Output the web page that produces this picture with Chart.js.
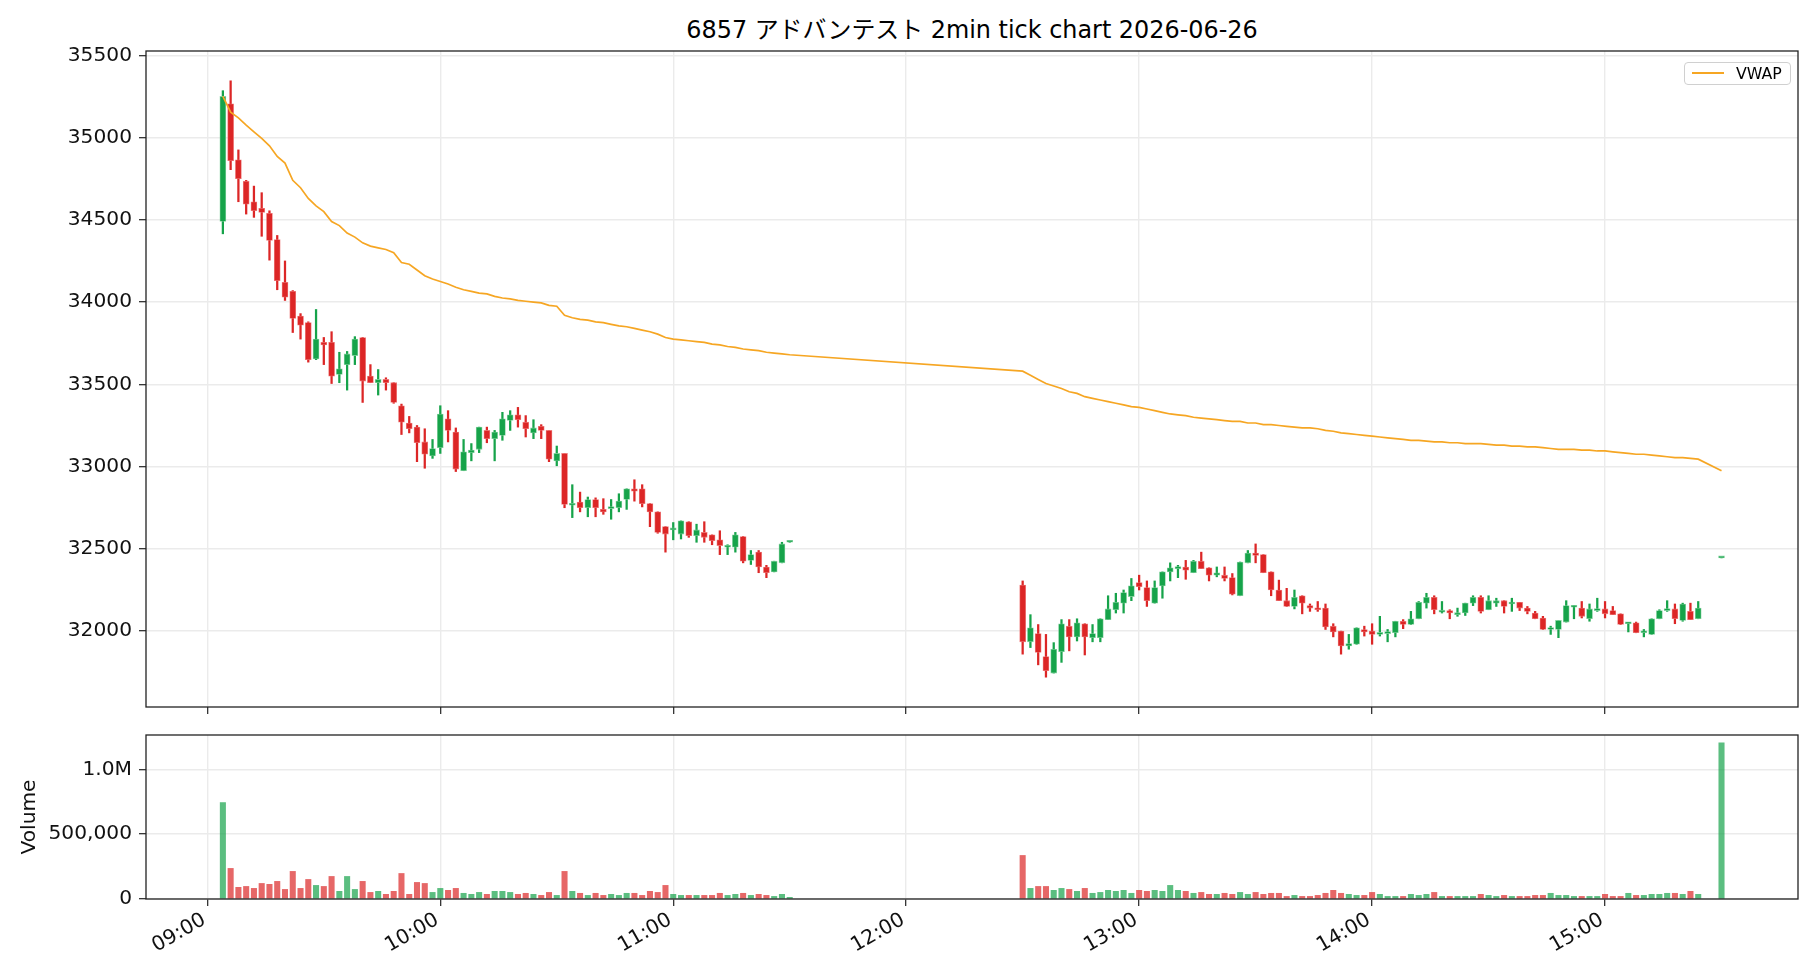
<!DOCTYPE html>
<html>
<head>
<meta charset="utf-8">
<script src="https://cdn.jsdelivr.net/npm/chart.js@4.4.1/dist/chart.umd.min.js"></script>
<style>
body { margin: 0; background: #fff; width: 1820px; height: 980px; overflow: hidden; position: relative;
       font-family: "DejaVu Sans", "Noto Sans CJK JP", sans-serif; }
#title { position: absolute; left: 146px; width: 1652px; top: 14px; height: 32px; line-height: 32px;
         text-align: center; font-size: 23.9px; color: #000; }
#priceBox { position: absolute; left: 0; top: 0; width: 1820px; height: 720px; }
#volBox { position: absolute; left: 0; top: 720px; width: 1820px; height: 260px; }
#legend { position: absolute; left: 1684px; top: 62px; width: 107px; height: 23px; box-sizing: border-box;
          border: 1px solid #d0d0d0; border-radius: 4px; background: rgba(255,255,255,0.85); }
#legend .swatch { position: absolute; left: 7px; top: 9px; width: 32px; height: 2px; background: #f6a623; }
#legend .label { position: absolute; left: 51px; top: 0; line-height: 21px; font-size: 15.8px; color: #000; }
</style>
</head>
<body>
<div id="title">6857 アドバンテスト 2min tick chart 2026-06-26</div>
<div id="priceBox"><canvas id="priceChart" width="1820" height="720"></canvas></div>
<div id="volBox"><canvas id="volChart" width="1820" height="260"></canvas></div>
<div id="legend"><div class="swatch"></div><div class="label">VWAP</div></div>
<script>
// bar times (2 minute bars), morning session then afternoon session
const times = [
  '09:04','09:06','09:08','09:10','09:12','09:14','09:16','09:18','09:20','09:22','09:24','09:26','09:28','09:30',
  '09:32','09:34','09:36','09:38','09:40','09:42','09:44','09:46','09:48','09:50','09:52','09:54','09:56','09:58',
  '10:00','10:02','10:04','10:06','10:08','10:10','10:12','10:14','10:16','10:18','10:20','10:22','10:24','10:26','10:28',
  '10:30','10:32','10:34','10:36','10:38','10:40','10:42','10:44','10:46','10:48','10:50','10:52','10:54','10:56','10:58',
  '11:00','11:02','11:04','11:06','11:08','11:10','11:12','11:14','11:16','11:18','11:20','11:22','11:24','11:26','11:28',
  '11:30',
  '12:30','12:32','12:34','12:36','12:38','12:40','12:42','12:44','12:46','12:48','12:50','12:52','12:54','12:56','12:58',
  '13:00','13:02','13:04','13:06','13:08','13:10','13:12','13:14','13:16','13:18','13:20','13:22','13:24','13:26','13:28',
  '13:30','13:32','13:34','13:36','13:38','13:40','13:42','13:44','13:46','13:48','13:50','13:52','13:54','13:56','13:58',
  '14:00','14:02','14:04','14:06','14:08','14:10','14:12','14:14','14:16','14:18','14:20','14:22','14:24','14:26','14:28',
  '14:30','14:32','14:34','14:36','14:38','14:40','14:42','14:44','14:46','14:48','14:50','14:52','14:54','14:56','14:58',
  '15:00','15:02','15:04','15:06','15:08','15:10','15:12','15:14','15:16','15:18','15:20','15:22','15:24',
  '15:30'
];

const opens = [
  34490, 35205, 34865, 34735, 34610, 34570, 34540, 34380, 34120, 34065,
  33915, 33875, 33655, 33755, 33755, 33560, 33620, 33675, 33785, 33550,
  33510, 33530, 33510, 33370, 33265, 33240, 33150, 33065, 33115, 33290,
  33210, 32975, 33085, 33105, 33220, 33170, 33190, 33280, 33315, 33270,
  33205, 33245, 33220, 33035, 33080, 32765, 32785, 32750, 32800, 32740,
  32745, 32750, 32800, 32865, 32865, 32775, 32725, 32635, 32615, 32590,
  32665, 32580, 32600, 32585, 32555, 32510, 32510, 32575, 32430, 32480,
  32390, 32360, 32415, 32540,
  32280, 31935, 31985, 31845, 31745, 31875, 32030, 31965, 32045, 31960,
  31960, 32070, 32130, 32170, 32210, 32295, 32265, 32170, 32275, 32360,
  32380, 32390, 32355, 32425, 32385, 32340, 32340, 32325, 32215, 32415,
  32475, 32465, 32360, 32250, 32185, 32150, 32215, 32155, 32140, 32140,
  32030, 32000, 31910, 31920, 32010, 32000, 31980, 31985, 31990, 32060,
  32040, 32075, 32170, 32205, 32115, 32125, 32100, 32110, 32170, 32205,
  32130, 32170, 32185, 32165, 32175, 32140, 32110, 32080, 32010, 32010,
  32055, 32145, 32140, 32075, 32125, 32135, 32125, 32105, 32045, 32050,
  31990, 31980, 32075, 32125, 32135, 32065, 32120, 32075,
  32445
];

const highs = [
  35285, 35345, 34925, 34740, 34705, 34665, 34555, 34405, 34250, 34070,
  33930, 33880, 33955, 33785, 33820, 33695, 33700, 33790, 33785, 33620,
  33590, 33540, 33510, 33380, 33305, 33250, 33230, 33165, 33370, 33340,
  33235, 33165, 33140, 33240, 33240, 33220, 33330, 33340, 33360, 33310,
  33285, 33255, 33220, 33125, 33080, 32890, 32845, 32815, 32810, 32805,
  32800, 32835, 32865, 32920, 32890, 32775, 32725, 32635, 32660, 32670,
  32665, 32650, 32665, 32585, 32610, 32525, 32600, 32575, 32490, 32490,
  32400, 32425, 32540, 32540,
  32305, 32100, 32040, 31980, 31930, 32070, 32070, 32075, 32045, 32040,
  32075, 32215, 32230, 32250, 32320, 32340, 32305, 32305, 32360, 32415,
  32400, 32430, 32430, 32480, 32385, 32390, 32390, 32350, 32420, 32490,
  32530, 32465, 32360, 32310, 32260, 32250, 32215, 32165, 32180, 32165,
  32045, 32000, 31980, 32020, 32030, 32045, 32090, 32010, 32060, 32070,
  32120, 32180, 32230, 32215, 32180, 32130, 32140, 32170, 32215, 32215,
  32215, 32200, 32185, 32200, 32175, 32150, 32120, 32090, 32030, 32065,
  32185, 32155, 32180, 32165, 32200, 32180, 32150, 32105, 32050, 32055,
  32010, 32075, 32130, 32185, 32165, 32170, 32170, 32180,
  32445
];

const lows = [
  34415, 34805, 34610, 34535, 34515, 34400, 34255, 34075, 34010, 33815,
  33775, 33635, 33650, 33620, 33505, 33510, 33465, 33620, 33390, 33510,
  33435, 33465, 33385, 33195, 33205, 33030, 32990, 33050, 33080, 33150,
  32970, 32975, 33035, 33085, 33145, 33035, 33160, 33220, 33240, 33180,
  33170, 33170, 33030, 33005, 32750, 32690, 32725, 32695, 32695, 32710,
  32680, 32725, 32740, 32790, 32755, 32635, 32595, 32480, 32555, 32560,
  32570, 32540, 32540, 32525, 32465, 32465, 32480, 32415, 32405, 32355,
  32325, 32360, 32415, 32540,
  31860, 31900, 31795, 31720, 31745, 31810, 31880, 31940, 31855, 31935,
  31935, 32070, 32110, 32110, 32185, 32250, 32150, 32170, 32200, 32305,
  32325, 32315, 32355, 32380, 32305, 32330, 32305, 32220, 32215, 32415,
  32415, 32355, 32215, 32185, 32150, 32135, 32105, 32120, 32120, 32010,
  31965, 31860, 31890, 31920, 31970, 31920, 31970, 31935, 31965, 32015,
  32040, 32075, 32140, 32105, 32110, 32075, 32090, 32095, 32155, 32110,
  32130, 32150, 32110, 32120, 32125, 32105, 32075, 32010, 31980, 31960,
  32055, 32075, 32080, 32060, 32120, 32080, 32100, 32040, 31995, 31990,
  31965, 31980, 32075, 32120, 32045, 32060, 32070, 32075,
  32445
];

const closes = [
  35250, 34860, 34750, 34595, 34555, 34545, 34375, 34130, 34030, 33900,
  33860, 33650, 33775, 33740, 33550, 33595, 33685, 33775, 33520, 33510,
  33530, 33510, 33390, 33270, 33230, 33145, 33075, 33110, 33320, 33220,
  32985, 33090, 33100, 33240, 33170, 33210, 33290, 33315, 33285, 33230,
  33235, 33220, 33045, 33080, 32770, 32775, 32750, 32800, 32750, 32725,
  32755, 32790, 32865, 32850, 32775, 32725, 32600, 32590, 32625, 32670,
  32580, 32615, 32570, 32550, 32520, 32520, 32585, 32425, 32465, 32390,
  32355, 32425, 32530, 32540,
  31935, 32020, 31870, 31760, 31890, 32045, 31965, 32050, 31965, 31985,
  32075, 32135, 32175, 32235, 32275, 32270, 32185, 32265, 32360, 32385,
  32385, 32370, 32425, 32380, 32340, 32355, 32320, 32225, 32420, 32475,
  32460, 32355, 32250, 32185, 32150, 32205, 32170, 32140, 32130, 32025,
  31995, 31910, 31925, 32020, 31995, 31980, 31985, 31995, 32060, 32040,
  32075, 32175, 32205, 32130, 32125, 32110, 32110, 32170, 32205, 32120,
  32185, 32185, 32150, 32175, 32140, 32120, 32075, 32010, 32020, 32065,
  32155, 32155, 32090, 32135, 32135, 32105, 32100, 32040, 32050, 31990,
  32000, 32075, 32125, 32135, 32075, 32165, 32070, 32140,
  32445
];

const volumes = [
  744000, 236000, 90000, 97000, 82000, 120000, 113000, 136000, 74000, 213000,
  82000, 151000, 105000, 97000, 174000, 59000, 174000, 74000, 136000, 51000,
  59000, 36000, 59000, 197000, 36000, 128000, 120000, 51000, 82000, 67000,
  82000, 44000, 36000, 51000, 36000, 59000, 59000, 51000, 36000, 44000,
  36000, 28000, 51000, 28000, 213000, 59000, 44000, 28000, 44000, 28000,
  36000, 28000, 44000, 44000, 28000, 59000, 51000, 105000, 36000, 28000,
  28000, 28000, 28000, 28000, 44000, 28000, 36000, 44000, 28000, 36000,
  28000, 20000, 36000, 13000,
  336000, 82000, 97000, 97000, 67000, 82000, 74000, 59000, 82000, 44000,
  51000, 67000, 59000, 67000, 44000, 67000, 59000, 67000, 59000, 105000,
  67000, 59000, 44000, 51000, 36000, 36000, 44000, 36000, 51000, 36000,
  51000, 36000, 44000, 44000, 20000, 28000, 20000, 20000, 28000, 44000,
  67000, 44000, 36000, 28000, 28000, 51000, 36000, 20000, 20000, 20000,
  36000, 28000, 36000, 51000, 20000, 20000, 20000, 20000, 20000, 36000,
  28000, 20000, 28000, 20000, 20000, 20000, 28000, 28000, 44000, 28000,
  28000, 20000, 20000, 20000, 20000, 36000, 20000, 20000, 44000, 28000,
  28000, 36000, 36000, 44000, 44000, 36000, 59000, 36000,
  1205000
];

const vwap = [
  35250, 35155, 35120, 35075, 35035, 34995, 34950, 34885, 34845, 34740,
  34695, 34630, 34585, 34550, 34490, 34465, 34420, 34395, 34360, 34340,
  34330, 34320, 34300, 34240, 34230, 34195, 34160, 34140, 34125, 34110,
  34090, 34075, 34065, 34055, 34050, 34035, 34025, 34020, 34010, 34005,
  34000, 33995, 33980, 33975, 33920, 33905, 33895, 33890, 33880, 33875,
  33865, 33855, 33850, 33840, 33830, 33820, 33805, 33785, 33775, 33770,
  33765, 33760, 33755, 33745, 33740, 33730, 33725, 33715, 33710, 33705,
  33695, 33690, 33685, 33680,
  33580, 33555, 33530, 33505, 33490, 33475, 33455, 33445, 33425, 33415,
  33405, 33395, 33385, 33375, 33365, 33360, 33350, 33340, 33330, 33320,
  33315, 33310, 33300, 33295, 33290, 33285, 33280, 33275, 33275, 33265,
  33265, 33255, 33255, 33250, 33245, 33240, 33235, 33235, 33230, 33220,
  33215, 33205, 33200, 33195, 33190, 33185, 33180, 33175, 33170, 33165,
  33160, 33160, 33155, 33150, 33150, 33145, 33145, 33140, 33140, 33140,
  33135, 33130, 33130, 33125, 33125, 33120, 33120, 33115, 33110, 33105,
  33105, 33105, 33100, 33100, 33095, 33095, 33090, 33085, 33080, 33075,
  33075, 33070, 33065, 33060, 33055, 33055, 33050, 33045,
  32975
];

const hourTicks = ['09:00', '10:00', '11:00', '12:00', '13:00', '14:00', '15:00'];
const priceTicks = [32000, 32500, 33000, 33500, 34000, 34500, 35000, 35500];
const volumeTicks = [0, 500000, 1000000];

// helpers
const toMin = t => { const [h, m] = t.split(':').map(Number); return h * 60 + m; };
const fmtMin = v => String(Math.floor(v / 60)).padStart(2, '0') + ':' + String(v % 60).padStart(2, '0');

const FONT = '"DejaVu Sans", "Noto Sans CJK JP", sans-serif';
const TICK_SIZE = 20.2;
Chart.defaults.font.family = FONT;
Chart.defaults.color = '#111';

const xs = times.map(toMin);
const up = closes.map((c, i) => c >= opens[i]);
const GREEN = 'rgb(22,163,74)', RED = 'rgb(220,38,38)';
const GREEN_EDGE = 'rgba(120,205,150,0.9)', RED_EDGE = 'rgba(236,110,110,0.9)';
const GREEN_VOL = 'rgba(22,163,74,0.7)', RED_VOL = 'rgba(220,38,38,0.7)';

const pLo = Math.min(...lows), pHi = Math.max(...highs);
const pPad = (pHi - pLo) * 0.05;
const vMax = Math.max(...volumes) * 1.05;
const X_MIN = 524.2, X_MAX = 949.7;
const GRID = '#ebebeb';

// keep the plot boxes exactly where they are in the picture
function fixWidth(w) {
    return s => { s.width = w; s.paddingTop = 0; s.paddingBottom = 0; };
}
function fixHeight(h) {
    return s => { s.height = h; s.paddingLeft = 0; s.paddingRight = 0; };
}

// draws the closed box round the plot area
const frame = {
    id: 'frame',
    afterDraw(chart) {
        const a = chart.chartArea, ctx = chart.ctx;
        ctx.save();
        ctx.strokeStyle = '#222';
        ctx.lineWidth = 1.3;
        ctx.strokeRect(a.left, a.top, a.right - a.left, a.bottom - a.top);
        ctx.restore();
    }
};

function xScale(showLabels, height) {
    return {
        type: 'linear',
        min: X_MIN,
        max: X_MAX,
        offset: false,
        afterBuildTicks: s => { s.ticks = hourTicks.map(t => ({ value: toMin(t) })); },
        afterFit: fixHeight(height),
        grid: { color: GRID, lineWidth: 1.4, offset: false, drawTicks: true, tickLength: 7, tickColor: '#222', tickWidth: 1.2 },
        border: { display: false },
        ticks: {
            display: showLabels,
            autoSkip: false,
            minRotation: 30,
            maxRotation: 30,
            padding: 2,
            labelOffset: -3,
            color: '#111',
            font: { size: TICK_SIZE },
            callback: v => fmtMin(v)
        }
    };
}

new Chart('priceChart', {
    type: 'bar',
    data: {
        datasets: [
            {
                type: 'line',
                label: 'VWAP',
                data: xs.map((x, i) => ({ x: x, y: vwap[i] })),
                borderColor: '#f6a623',
                borderWidth: 1.7,
                pointRadius: 0,
                tension: 0,
                order: 0
            },
            {
                label: 'body',
                data: xs.map((x, i) => ({ x: x, y: [opens[i], closes[i]] })),
                backgroundColor: up.map(u => u ? GREEN : RED),
                borderColor: up.map(u => u ? GREEN_EDGE : RED_EDGE),
                borderWidth: 0.8,
                borderSkipped: false,
                barThickness: 6,
                minBarLength: 2,
                grouped: false,
                order: 1
            },
            {
                label: 'wick',
                data: xs.map((x, i) => ({ x: x, y: [lows[i], highs[i]] })),
                backgroundColor: up.map(u => u ? GREEN : RED),
                borderWidth: 0,
                barThickness: 1.6,
                grouped: false,
                order: 2
            }
        ]
    },
    options: {
        responsive: false,
        animation: false,
        devicePixelRatio: 1,
        layout: { autoPadding: false, padding: { top: 51, right: 22, left: 0, bottom: 0 } },
        plugins: { legend: { display: false }, tooltip: { enabled: false } },
        scales: {
            x: xScale(false, 13),
            y: {
                type: 'linear',
                min: pLo - pPad,
                max: pHi + pPad,
                afterBuildTicks: s => { s.ticks = priceTicks.map(v => ({ value: v })); },
                afterFit: fixWidth(146),
                grid: { color: GRID, lineWidth: 1.4, drawTicks: true, tickLength: 7, tickColor: '#222', tickWidth: 1.2 },
                border: { display: false },
                ticks: { padding: 7, color: '#111', font: { size: TICK_SIZE }, callback: v => String(v) }
            }
        }
    },
    plugins: [frame]
});

new Chart('volChart', {
    type: 'bar',
    data: {
        datasets: [{
            label: 'Volume',
            data: xs.map((x, i) => ({ x: x, y: volumes[i] })),
            backgroundColor: up.map(u => u ? GREEN_VOL : RED_VOL),
            borderWidth: 0,
            barThickness: 5.4,
            grouped: false
        }]
    },
    options: {
        responsive: false,
        animation: false,
        devicePixelRatio: 1,
        layout: { autoPadding: false, padding: { top: 15, right: 22, left: 0, bottom: 0 } },
        plugins: { legend: { display: false }, tooltip: { enabled: false } },
        scales: {
            x: xScale(true, 81),
            y: {
                type: 'linear',
                min: 0,
                max: vMax,
                afterBuildTicks: s => { s.ticks = volumeTicks.map(v => ({ value: v })); },
                afterFit: fixWidth(146),
                grid: { color: GRID, lineWidth: 1.4, drawTicks: true, tickLength: 7, tickColor: '#222', tickWidth: 1.2 },
                border: { display: false },
                title: { display: true, text: 'Volume', color: '#111', font: { size: TICK_SIZE }, padding: { top: 18, bottom: 0 } },
                ticks: {
                    padding: 7,
                    color: '#111',
                    font: { size: TICK_SIZE },
                    callback: v => v === 0 ? '0' : (v >= 1000000 ? (v / 1000000).toFixed(1) + 'M' : v.toLocaleString('en-US'))
                }
            }
        }
    },
    plugins: [frame]
});
</script>
</body>
</html>
